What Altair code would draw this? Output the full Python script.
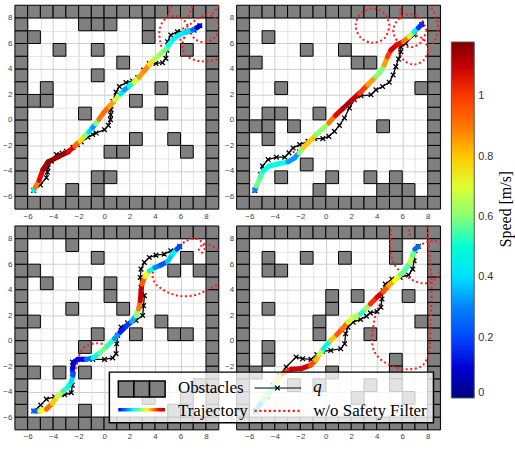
import altair as alt
import pandas as pd

# ---------------- data ----------------
SPEED_MAX = 1.18
JET = ["#00007F", "#0000FF", "#007FFF", "#00FFFF", "#7FFF7F",
       "#FFFF00", "#FF7F00", "#FF0000", "#7F0000"]

# border cells of the 16x16 map (lower-left corners)
BORDER = ([(x, -7) for x in range(-7, 9)] + [(x, 8) for x in range(-7, 9)]
          + [(-7, y) for y in range(-6, 8)] + [(8, y) for y in range(-6, 8)])

P1_OBS = [(-2, 7), (-1, 7), (0, 7), (3, 7), (-6, 6), (3, 6), (-4, 5), (-1, 5), (6, 5),
          (1, 4), (-1, 3), (-5, 2), (4, 2), (-6, 1), (-5, 1), (2, 1), (-2, 0), (4, 0),
          (2, -2), (5, -2), (0, -3), (1, -3), (6, -3), (-1, -5), (0, -5), (-3, -6), (-1, -6)]
P2_OBS = [(-5, 6), (-2, 5), (1, 5), (-6, 4), (2, 4), (3, 4), (-4, 2), (7, 2), (-5, 0),
          (-4, 0), (-1, 0), (-6, -1), (-5, -1), (-3, -1), (4, -1), (-5, -2), (-2, -4),
          (-4, -5), (0, -5), (3, -5), (5, -5), (-1, -6), (4, -6), (5, -6), (6, -6)]
P3_OBS = [(-3, 7), (-1, 6), (6, 6), (-6, 5), (5, 5), (7, 5), (-5, 4), (-2, 4), (0, 4),
          (0, 3), (-3, 2), (1, 2), (-6, 1), (4, 1), (-1, 0), (2, 0), (5, 0), (6, 0),
          (-2, -1), (-6, -3), (-4, -3), (-2, -3), (-2, -6),
          (3, -5), (5, -6), (6, -5), (6, -6), (7, -4)]
P4_OBS = [(5, 7), (-5, 6), (-2, 6), (1, 6), (5, 6), (-5, 5), (-4, 5), (0, 3), (2, 3),
          (6, 3), (-5, 2), (0, 2), (-1, 1), (7, 1), (-1, 0), (3, 0), (-5, -1), (-5, -2),
          (5, -2), (0, -3), (5, -3), (-6, -3),
          (-3, -4), (-1, -4), (3, -4), (5, -4), (2, -5), (6, -5)]

# trajectories: x, y, speed [m/s]
P1_TRAJ = [(-5.52, -5.53, 0.05), (-5.40, -5.30, 0.8), (-5.10, -4.75, 1.0), (-4.80, -3.90, 1.12),
           (-4.40, -3.30, 1.15), (-3.60, -2.90, 1.16), (-2.80, -2.50, 1.12), (-2.30, -2.05, 1.0),
           (-1.90, -1.65, 0.85), (-1.50, -1.25, 0.7), (-1.20, -0.95, 0.5), (-0.90, -0.60, 0.3),
           (-0.65, -0.30, 0.35), (-0.40, 0.05, 0.85), (-0.05, 0.55, 0.95), (0.40, 1.05, 0.9),
           (0.85, 1.55, 0.8), (1.30, 2.05, 0.55), (1.60, 2.35, 0.25), (1.95, 2.65, 0.4),
           (2.35, 2.95, 0.6), (2.75, 3.35, 0.8), (3.15, 3.85, 0.9), (3.55, 4.35, 0.85),
           (3.95, 4.75, 0.7), (4.35, 5.10, 0.6), (4.75, 5.45, 0.65), (5.05, 5.85, 0.5),
           (5.40, 6.30, 0.45), (5.85, 6.65, 0.4), (6.40, 6.90, 0.45), (6.95, 7.05, 0.35),
           (7.30, 7.25, 0.15), (7.51, 7.39, 0.05)]
P2_TRAJ = [(-5.57, -5.53, 0.05), (-5.44, -5.19, 0.55), (-5.18, -4.59, 0.6), (-4.92, -4.02, 0.5),
           (-4.45, -3.63, 0.45), (-3.74, -3.45, 0.5), (-2.96, -3.29, 0.45), (-2.44, -2.98, 0.2),
           (-2.10, -2.59, 0.45), (-1.74, -2.15, 0.75), (-1.27, -1.68, 0.85), (-0.75, -1.16, 0.75),
           (-0.23, -0.69, 0.45), (0.24, -0.24, 0.8), (0.76, 0.35, 1.0), (1.33, 0.88, 1.12),
           (1.98, 1.50, 1.14), (2.64, 2.10, 1.05), (3.29, 2.75, 0.95), (3.94, 3.40, 0.75),
           (4.33, 3.84, 0.45), (4.59, 4.31, 0.75), (4.85, 4.96, 0.95), (5.11, 5.48, 1.05),
           (5.55, 5.88, 1.1), (6.07, 6.14, 1.0), (6.54, 6.53, 0.8), (6.93, 6.92, 0.55),
           (7.27, 7.23, 0.3), (7.53, 7.49, 0.05)]
P3_TRAJ = [(-5.52, -5.53, 0.05), (-5.05, -5.53, 0.45), (-4.53, -5.38, 1.0), (-4.08, -4.93, 0.85),
           (-3.67, -4.41, 0.75), (-3.22, -3.97, 0.6), (-2.83, -3.63, 0.45), (-2.57, -3.24, 0.5),
           (-2.44, -2.72, 0.3), (-2.49, -2.20, 0.12), (-2.36, -1.68, 0.1), (-2.05, -1.47, 0.1),
           (-1.40, -1.47, 0.15), (-0.88, -1.36, 0.4), (-0.36, -0.97, 0.55), (0.24, -0.43, 0.6),
           (0.81, 0.15, 0.45), (1.26, 0.67, 0.2), (1.72, 1.11, 0.12), (2.17, 1.50, 0.25),
           (2.51, 1.97, 0.45), (2.71, 2.49, 0.75), (2.84, 3.14, 1.05), (2.90, 3.79, 1.15),
           (2.97, 4.44, 1.05), (3.21, 5.02, 0.85), (3.55, 5.48, 0.6), (3.99, 5.74, 0.4),
           (4.46, 5.93, 0.2), (4.98, 6.19, 0.25), (5.37, 6.79, 0.5), (5.71, 7.18, 0.35),
           (5.94, 7.39, 0.05)]
P4_TRAJ = [(-5.52, -5.53, 0.05), (-4.93, -4.67, 0.7), (-4.41, -4.02, 0.5), (-3.89, -3.24, 0.6),
           (-3.37, -2.59, 0.95), (-2.72, -2.25, 1.05), (-1.94, -2.20, 1.12), (-1.22, -1.94, 1.05),
           (-0.78, -1.55, 0.9), (-0.52, -1.10, 0.75), (-0.18, -0.64, 0.55), (0.08, -0.32, 0.3),
           (0.39, 0.02, 0.7), (0.86, 0.46, 0.9), (1.30, 0.93, 1.02), (1.74, 1.45, 0.8),
           (2.21, 1.84, 0.6), (2.73, 2.10, 0.7), (3.11, 2.49, 0.35), (3.50, 2.88, 0.9),
           (4.02, 3.40, 1.12), (4.49, 3.84, 1.02), (4.93, 4.31, 0.9), (5.37, 4.70, 0.78),
           (5.84, 5.15, 0.7), (6.23, 5.56, 0.45), (6.62, 6.14, 0.65), (6.82, 6.71, 0.68),
           (7.00, 7.18, 0.45), (7.26, 7.39, 0.05)]

# q (black, x markers)
P1_Q = [(-5.52, -5.53), (-5.0, -5.1), (-4.53, -4.54), (-4.45, -4.1), (-4.40, -3.76), (-4.14, -3.24),
        (-3.74, -2.72), (-3.3, -2.6), (-2.96, -2.46), (-2.44, -2.15), (-2.1, -1.95), (-1.79, -1.73),
        (-1.27, -1.36), (-0.9, -1.15), (-0.62, -1.03), (0.03, -0.77), (0.34, -0.43), (0.50, 0.02),
        (0.52, 0.4), (0.55, 0.80), (0.68, 1.45), (0.94, 2.18), (1.20, 2.62), (1.72, 2.93),
        (2.24, 3.06), (2.64, 3.32), (3.10, 3.92), (3.55, 4.42), (4.07, 4.44), (4.59, 4.49),
        (4.85, 4.83), (4.93, 5.48), (4.98, 6.14), (5.24, 6.66), (5.76, 6.92), (6.54, 6.97),
        (7.06, 7.05), (7.51, 7.39)]
P2_Q = [(-5.57, -5.53), (-5.13, -4.28), (-4.97, -3.63), (-4.53, -3.11), (-3.88, -2.93),
        (-3.22, -2.93), (-2.89, -2.59), (-2.57, -2.20), (-2.05, -1.94), (-1.40, -1.68),
        (-0.88, -1.47), (-0.23, -1.47), (0.24, -1.29), (0.68, -0.90), (1.07, -0.43),
        (1.46, 0.15), (1.85, 0.93), (2.24, 1.58), (2.77, 1.89), (3.55, 1.97), (3.94, 2.36),
        (4.46, 2.62), (4.98, 2.96), (5.29, 3.53), (5.50, 4.18), (5.71, 4.78), (5.89, 5.35),
        (5.89, 5.74), (6.28, 6.01), (6.93, 6.66), (7.53, 7.49)]
P3_Q = [(-5.52, -5.53), (-4.97, -5.06), (-4.53, -4.59), (-3.88, -4.41), (-3.09, -4.25),
        (-2.57, -4.09), (-2.49, -3.50), (-2.49, -2.59), (-2.49, -1.68), (-1.79, -1.47),
        (-0.88, -1.47), (0.03, -1.47), (0.68, -1.36), (0.94, -1.03), (0.99, -0.25),
        (1.07, 0.41), (1.33, 1.06), (1.85, 1.40), (2.51, 1.58), (3.03, 1.97), (3.10, 2.75),
        (3.16, 3.53), (2.90, 4.18), (2.84, 4.96), (2.90, 5.61), (3.16, 6.14), (3.55, 6.53),
        (4.07, 6.71), (4.72, 6.79), (5.24, 7.05), (5.94, 7.39)]
P4_Q = [(-5.52, -5.53), (-4.54, -4.41), (-4.15, -3.50), (-3.63, -2.72), (-3.11, -2.07),
        (-2.33, -1.29), (-1.81, -1.42), (-1.16, -1.47), (-0.70, -1.10), (-0.26, -0.84),
        (0.39, -0.77), (1.17, -0.64), (1.48, -0.25), (1.56, 0.54), (1.74, 1.06), (2.15, 1.45),
        (2.73, 1.66), (3.19, 1.92), (3.50, 2.18), (4.02, 2.28), (4.33, 2.62), (4.41, 3.27),
        (4.49, 3.92), (4.67, 4.44), (5.19, 4.83), (5.84, 4.96), (6.49, 5.15), (6.82, 5.61),
        (6.93, 6.27), (7.00, 7.05), (7.26, 7.39)]

# w/o safety filter (red dotted), list of pieces
P1_RED = [
    [(4.6, 5.4), (4.4, 6.2), (4.35, 7.0), (4.6, 7.7), (5.1, 8.1), (5.7, 8.15), (6.3, 7.8),
     (6.6, 7.2), (6.4, 6.6), (6.0, 6.3), (5.6, 6.5), (5.8, 7.0), (6.5, 7.3), (7.0, 7.7),
     (7.6, 8.1), (8.3, 8.2), (8.9, 7.8), (9.05, 7.0), (8.6, 6.4), (7.9, 6.1), (7.2, 6.3),
     (6.8, 6.9), (7.3, 7.4)],
    [(6.3, 6.5), (6.15, 5.7), (6.5, 5.0), (7.3, 4.65), (8.2, 4.6), (9.1, 4.8)],
    [(5.0, 8.1), (5.2, 8.7), (5.5, 9.2)],
    [(6.6, 8.1), (6.85, 8.7), (7.1, 9.2)],
    [(8.5, 8.3), (8.9, 8.8), (9.2, 9.1)],
]
P2_RED = [
    [(5.0, 7.4), (4.65, 8.3), (3.7, 8.75), (2.75, 8.35), (2.35, 7.4), (2.75, 6.45),
     (3.7, 6.05), (4.65, 6.45), (5.0, 7.4)],
    [(7.9, 7.0), (7.5, 7.9), (6.6, 8.3), (5.7, 7.9), (5.3, 7.0), (5.7, 6.1), (6.6, 5.7),
     (7.5, 6.1), (7.9, 7.0)],
    [(8.05, 5.5), (7.7, 6.3), (6.9, 6.65), (6.1, 6.3), (5.75, 5.5), (6.1, 4.7), (6.9, 4.35),
     (7.7, 4.7), (8.05, 5.5)],
    [(8.1, 9.1), (8.6, 8.2), (8.8, 7.2), (8.6, 6.3), (8.2, 5.9)],
    [(5.9, 7.9), (5.85, 8.6), (5.9, 9.2)],
    [(-2.6, -2.55), (-2.15, -2.35), (-1.75, -1.95), (-1.35, -1.55)],
]
P3_RED = [
    [(5.94, 7.39), (6.4, 7.8), (7.1, 8.0), (7.6, 7.8), (7.9, 7.3), (7.7, 6.9), (7.45, 7.2),
     (7.9, 7.6), (8.5, 7.4), (9.1, 7.1)],
    [(4.0, 5.75), (3.8, 5.2), (3.95, 4.6), (4.4, 4.15), (5.1, 3.75), (6.0, 3.5), (7.05, 3.55),
     (7.95, 3.9), (9.1, 4.5)],
    [(-2.3, -2.6), (-2.15, -1.9), (-2.0, -1.3), (-1.75, -0.75), (-1.25, -0.35), (-0.5, -0.2),
     (0.1, -0.35)],
]
P4_RED = [
    [(4.3, 2.9), (3.95, 2.2), (3.75, 1.2), (3.63, -0.1), (4.0, -1.15), (5.05, -1.95),
     (6.35, -2.25), (7.45, -2.05), (7.95, -1.4), (8.17, -0.38), (8.22, 1.45), (8.3, 3.27),
     (8.3, 4.83), (8.17, 6.4), (8.04, 7.96), (7.96, 9.1)],
    [(5.19, 9.1), (5.06, 7.83), (5.11, 6.79), (5.45, 5.88), (6.1, 5.22), (6.87, 4.72),
     (7.65, 4.5), (8.3, 4.62), (8.82, 5.09), (9.0, 5.6)],
    [(7.26, 7.39), (7.91, 7.75), (8.56, 7.83), (9.1, 7.7)],
    [(6.49, 9.1), (6.62, 8.2)],
]

CBAR_TICKS = [0, 0.2, 0.4, 0.6, 0.8, 1.0]
CBAR_TITLE = "Speed [m/s]"

# ---------------- helpers ----------------
SERIF = "Liberation Serif"
SANS = "Liberation Sans"
X_MARK = "M-1,-1L1,1M-1,1L1,-1"

def axis():
    return alt.Axis(values=list(range(-6, 9)), title=None, ticks=False, domain=False,
                    labelExpr="datum.value % 2 == 0 ? datum.label : ''",
                    grid=True,
                    gridColor={"condition": {"test": "datum.value % 2 == 0", "value": "#cfcfcf"},
                               "value": "#e4e4e4"},
                    labelFontSize=8, labelColor="#444", labelFont=SANS, labelPadding=3)

XS = alt.Scale(domain=[-7, 9], nice=False, zero=False)

def xenc(f="x"):
    return alt.X(f"{f}:Q", scale=XS, axis=axis())

def yenc(f="y"):
    return alt.Y(f"{f}:Q", scale=XS, axis=axis())

COLOR_SCALE = alt.Scale(domain=[SPEED_MAX * i / 8 for i in range(9)], range=JET)
COLOR_LEGEND = alt.Legend(
    title=None, orient="none", legendX=439, legendY=37, direction="vertical",
    gradientLength=358, gradientThickness=23, gradientStrokeColor="#555",
    gradientStrokeWidth=1, values=CBAR_TICKS, format="~g", labelFontSize=11,
    labelFont=SANS, labelColor="#333", labelOffset=4, padding=0)


def panel(obs, traj, q, red, with_legend=False, with_cbar_title=False):
    cells = pd.DataFrame(BORDER + obs, columns=["x", "y"])
    obs_layer = alt.Chart(cells).transform_calculate(
        x2="datum.x + 1", y2="datum.y + 1"
    ).mark_rect(fill="#808080", stroke="black", strokeWidth=1).encode(
        x=xenc(), x2="x2:Q", y=yenc(), y2="y2:Q")

    rows = []
    for s, piece in enumerate(red):
        for i, (x, y) in enumerate(piece):
            rows.append({"seg": s, "i": i, "x": x, "y": y})
    red_layer = alt.Chart(pd.DataFrame(rows)).mark_line(
        color="#ff1a1a", strokeWidth=2, strokeDash=[2, 2.6], interpolate="cardinal", clip=True
    ).encode(x=xenc(), y=yenc(), detail="seg:N", order="i:Q")

    qdf = pd.DataFrame(q, columns=["x", "y"])
    qdf["i"] = range(len(qdf))
    q_line = alt.Chart(qdf).mark_line(color="black", strokeWidth=1.3).encode(
        x=xenc(), y=yenc(), order="i:Q")
    q_pts = alt.Chart(qdf).mark_point(shape=X_MARK, size=22, color="black", strokeWidth=1.3,
                                      filled=False, opacity=1).encode(x=xenc(), y=yenc())

    tdf = pd.DataFrame(traj, columns=["x", "y", "speed"])
    seg = pd.DataFrame({
        "x": tdf["x"][:-1].values, "y": tdf["y"][:-1].values,
        "x2": tdf["x"][1:].values, "y2": tdf["y"][1:].values,
        "speed": ((tdf["speed"][:-1].values + tdf["speed"][1:].values) / 2),
    })
    traj_layer = alt.Chart(seg).mark_rule(strokeWidth=5, strokeCap="round").encode(
        x=xenc(), y=yenc(), x2="x2:Q", y2="y2:Q",
        color=alt.Color("speed:Q", scale=COLOR_SCALE, legend=COLOR_LEGEND))

    layers = [obs_layer, red_layer, q_line, q_pts, traj_layer]
    one = pd.DataFrame({"a": [0]})
    base = alt.Chart(one)

    if with_cbar_title:
        layers.append(base.mark_text(angle=270, align="center", baseline="middle", font=SERIF,
                                     fontSize=16, color="black").encode(
            x=alt.value(271), y=alt.value(205), text=alt.value(CBAR_TITLE)))

    if with_legend:
        box = base.mark_rect(fill="white", fillOpacity=0.78, stroke="black", strokeWidth=1.5).encode(
            x=alt.value(-128), x2=alt.value(198), y=alt.value(147), y2=alt.value(198))
        sq = [base.mark_rect(fill="#808080", stroke="black", strokeWidth=1.5).encode(
            x=alt.value(x0), x2=alt.value(x0 + 15.7), y=alt.value(156), y2=alt.value(172))
            for x0 in (-119, -103.3, -87.6)]
        grad = alt.LinearGradient(
            gradient="linear", x1=0, x2=1, y1=0, y2=0,
            stops=[alt.GradientStop(color="#0000FF", offset=0),
                   alt.GradientStop(color="#00FFFF", offset=0.33),
                   alt.GradientStop(color="#FFFF00", offset=0.62),
                   alt.GradientStop(color="#FF0000", offset=0.88),
                   alt.GradientStop(color="#B00000", offset=1)])
        tr_icon = base.mark_rect(fill=grad).encode(
            x=alt.value(-119), x2=alt.value(-72), y=alt.value(183), y2=alt.value(186.5))
        q_icon = base.mark_rule(color="black", strokeWidth=1).encode(
            x=alt.value(18), x2=alt.value(65), y=alt.value(163))
        q_mk = base.mark_point(shape=X_MARK, size=22, color="black", strokeWidth=1.3,
                               filled=False, opacity=1).encode(x=alt.value(41), y=alt.value(163))
        red_icon = base.mark_rule(color="#ff1a1a", strokeWidth=2.2, strokeDash=[2.2, 2.6]).encode(
            x=alt.value(18), x2=alt.value(65), y=alt.value(186))

        def txt(t, x, y, style="normal"):
            return base.mark_text(align="left", baseline="alphabetic", font=SERIF, fontSize=17,
                                  fontStyle=style, color="black").encode(
                x=alt.value(x), y=alt.value(y), text=alt.value(t))
        layers += [box] + sq + [tr_icon, q_icon, q_mk, red_icon,
                                txt("Obstacles", -59, 168), txt("Trajectory", -59, 191),
                                txt("q", 77, 167, "italic"), txt("w/o Safety Filter", 77, 191)]

    return alt.layer(*layers).properties(width=205, height=205)


p1 = panel(P1_OBS, P1_TRAJ, P1_Q, P1_RED)
p2 = panel(P2_OBS, P2_TRAJ, P2_Q, P2_RED, with_cbar_title=True)
p3 = panel(P3_OBS, P3_TRAJ, P3_Q, P3_RED)
p4 = panel(P4_OBS, P4_TRAJ, P4_Q, P4_RED, with_legend=True)

chart = alt.concat(p1, p2, p3, p4, columns=2, spacing={"row": 17, "column": 18},
                   bounds="flush").properties(
    padding={"left": 2, "top": 3, "right": 0, "bottom": 0}
).configure_view(stroke=None).configure(background="white")

chart.save("out.html", embed_options={"renderer": "svg", "actions": False})
